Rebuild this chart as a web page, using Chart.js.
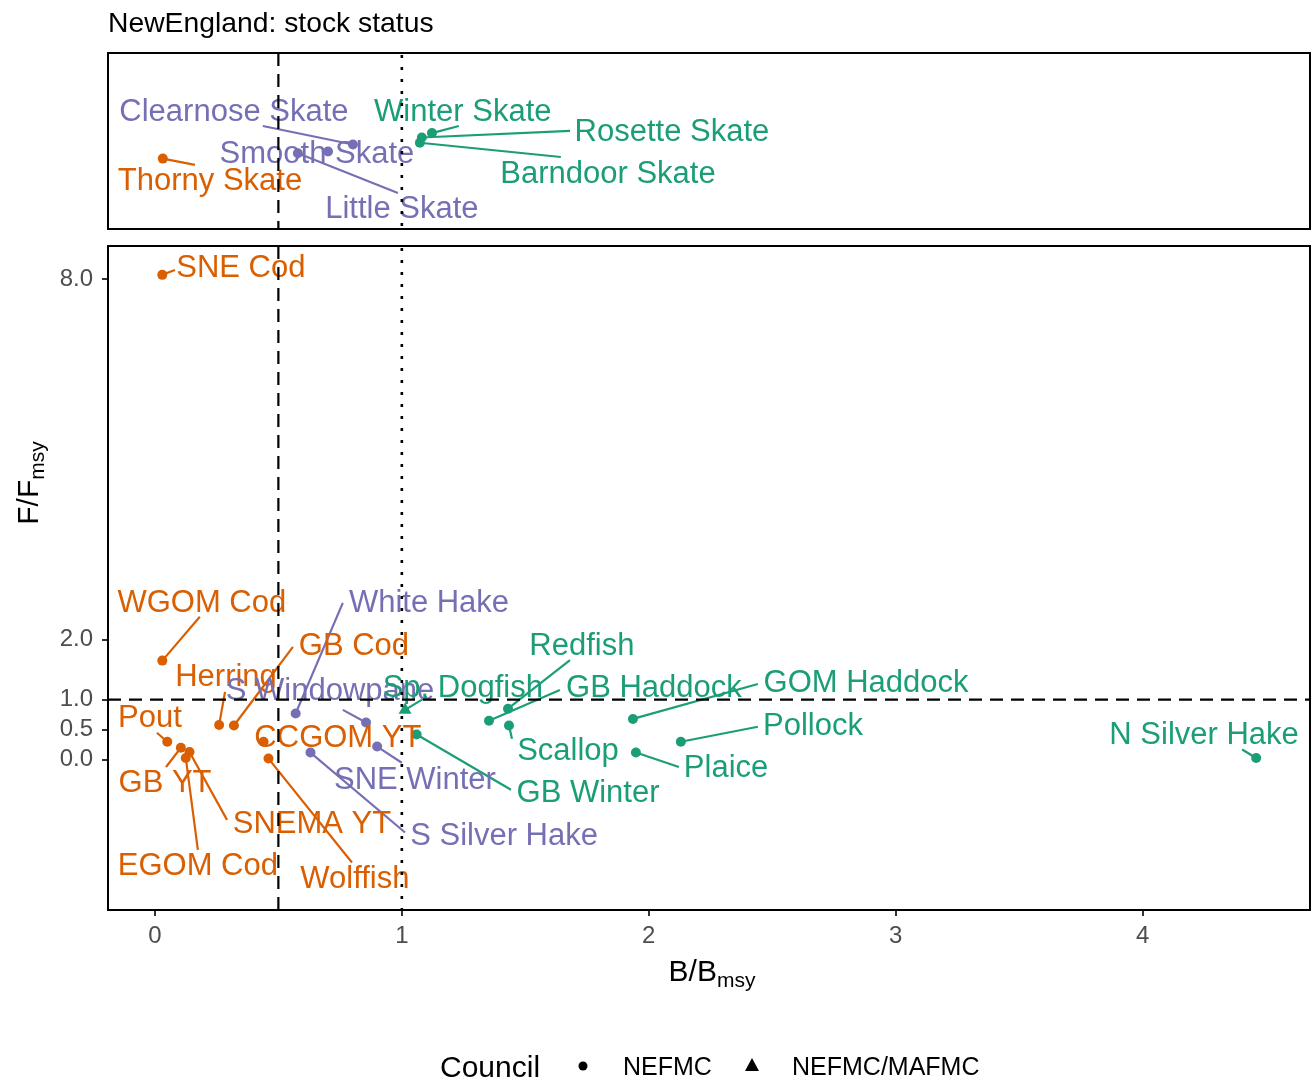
<!DOCTYPE html>
<html>
<head>
<meta charset="utf-8">
<script src="https://cdn.jsdelivr.net/npm/chart.js@4.4.1/dist/chart.umd.min.js"></script>
<style>
  html, body { margin: 0; padding: 0; background: #fff; }
  #wrap { position: relative; width: 1312px; height: 1081px; }
  canvas { position: absolute; left: 0; }
  #topPanel { top: 0; width: 1312px; height: 240px; }
  #mainPanel { top: 240px; width: 1312px; height: 841px; }
</style>
</head>
<body>
<div id="wrap">
  <canvas id="topPanel" width="1312" height="240"></canvas>
  <canvas id="mainPanel" width="1312" height="841"></canvas>
</div>
<script>
// --- stocks with B/Bmsy and F/Fmsy ---
const stocks = ['SNE Cod', 'WGOM Cod', 'Herring', 'GB Cod', 'Pout', 'GB YT', 'SNEMA YT', 'EGOM Cod',
  'CCGOM YT', 'Wolffish', 'White Hake', 'S Windowpane', 'S Silver Hake', 'SNE Winter', 'Sp. Dogfish',
  'GB Winter', 'GB Haddock', 'Redfish', 'Scallop', 'GOM Haddock', 'Plaice', 'Pollock', 'N Silver Hake'];
const bBmsy = [0.03, 0.03, 0.26, 0.32, 0.05, 0.105, 0.14, 0.125, 0.44, 0.46, 0.57, 0.855, 0.63, 0.90, 1.013,
  1.06, 1.353, 1.43, 1.434, 1.936, 1.948, 2.13, 4.46];
const fFmsy = [8.07, 1.65, 0.58, 0.57, 0.30, 0.20, 0.13, 0.03, 0.30, 0.02, 0.77, 0.62, 0.12, 0.22, 0.83,
  0.42, 0.65, 0.85, 0.57, 0.68, 0.12, 0.30, 0.03];
const council = ['NEFMC', 'NEFMC', 'NEFMC', 'NEFMC', 'NEFMC', 'NEFMC', 'NEFMC', 'NEFMC', 'NEFMC', 'NEFMC',
  'NEFMC', 'NEFMC', 'NEFMC', 'NEFMC', 'NEFMC/MAFMC', 'NEFMC', 'NEFMC', 'NEFMC', 'NEFMC', 'NEFMC', 'NEFMC',
  'NEFMC', 'NEFMC'];
const status = ['over', 'over', 'over', 'over', 'over', 'over', 'over', 'over', 'over', 'over',
  'below', 'below', 'below', 'below', 'above', 'above', 'above', 'above', 'above', 'above', 'above',
  'above', 'above'];
// where the repelled labels ended up (data units), and where their leaders meet them
const labelB = [0.348, 0.19, 0.288, 0.806, -0.02, 0.041, 0.636, 0.174, 0.741, 0.81, 1.11, 0.709, 1.414, 1.053,
  1.247, 1.754, 2.021, 1.729, 1.673, 2.88, 2.313, 2.665, 4.249];
const labelF = [8.2, 2.61, 1.38, 1.91, 0.70, -0.37, -1.06, -1.76, 0.37, -1.98, 2.61, 1.16, -1.26, -0.33,
  1.21, -0.55, 1.21, 1.91, 0.15, 1.28, -0.13, 0.57, 0.42];
const leaderB = [0.081, 0.182, 0.284, 0.559, 0.008, 0.045, 0.292, 0.174, null, 0.798, 0.761, 0.761, 1.013, 1.0,
  1.102, 1.442, 1.64, 1.681, 1.446, 2.442, 2.122, 2.442, 4.403];
const leaderF = [8.15, 2.38, 1.13, 1.88, 0.45, -0.12, -1.0, -1.5, null, -1.71, 2.61, 0.83, -1.21, -0.05,
  1.05, -0.5, 1.16, 1.66, 0.35, 1.26, -0.12, 0.55, 0.17];

// --- skates: B/Bmsy only (F unknown) ---
const skates = ['Thorny Skate', 'Little Skate', 'Smooth Skate', 'Clearnose Skate', 'Barndoor Skate',
  'Rosette Skate', 'Winter Skate'];
const skateB = [0.032, 0.579, 0.701, 0.802, 1.073, 1.081, 1.122];
const skateRow = [0.40, 0.43, 0.44, 0.48, 0.49, 0.52, 0.545];
const skateCouncil = ['NEFMC', 'NEFMC', 'NEFMC', 'NEFMC', 'NEFMC', 'NEFMC', 'NEFMC'];
const skateStatus = ['over', 'below', 'below', 'below', 'above', 'above', 'above'];
const skateLabelB = [0.223, 1.0, 0.656, 0.32, 1.835, 2.094, 1.247];
const skateLabelRow = [0.273, 0.119, 0.432, 0.67, 0.318, 0.557, 0.67];
const skateLeaderB = [0.162, 0.984, null, 0.437, 1.644, 1.681, 1.231];
const skateLeaderRow = [0.364, 0.205, null, 0.585, 0.409, 0.557, 0.585];

// --- axes ---
const xTicks = [0, 1, 2, 3, 4];
const yTicks = [0, 0.5, 1, 2, 8];
const xRange = [-0.19, 4.678];
const yRange = [-2.5, 8.55];

const statusColour = { over: '#D95F02', below: '#7570B3', above: '#1B9E77' };
const FONT = '"Liberation Sans", Arial, Helvetica, sans-serif';
const LABEL_PX = 31;

function buildDatasets(names, xs, ys, councils, groups) {
  const isTri = c => c.raw && c.raw.council === 'NEFMC/MAFMC';
  return Object.keys(statusColour).map(g => ({
    label: g,
    data: names.map((n, i) => ({ x: xs[i], y: ys[i], name: n, council: councils[i], g: groups[i] }))
      .filter(p => p.g === g),
    backgroundColor: statusColour[g],
    borderColor: statusColour[g],
    borderWidth: 0,
    pointStyle: c => isTri(c) ? 'triangle' : 'circle',
    pointRadius: c => isTri(c) ? 7.5 : 5,
    pointHoverRadius: c => isTri(c) ? 7.5 : 5
  }));
}

// labels with leader segments, like ggrepel
function repelLabels(names, xs, ys, lxs, lys, ex, ey, groups) {
  return {
    id: 'repelLabels',
    afterDatasetsDraw(chart) {
      const { ctx, scales: { x, y } } = chart;
      ctx.save();
      ctx.lineWidth = 2.2;
      names.forEach((n, i) => {
        if (ex[i] === null) return;
        ctx.strokeStyle = statusColour[groups[i]];
        ctx.beginPath();
        ctx.moveTo(x.getPixelForValue(xs[i]), y.getPixelForValue(ys[i]));
        ctx.lineTo(x.getPixelForValue(ex[i]), y.getPixelForValue(ey[i]));
        ctx.stroke();
      });
      ctx.font = `${LABEL_PX}px ${FONT}`;
      ctx.textAlign = 'center';
      ctx.textBaseline = 'middle';
      names.forEach((n, i) => {
        ctx.fillStyle = statusColour[groups[i]];
        ctx.fillText(n, x.getPixelForValue(lxs[i]), y.getPixelForValue(lys[i]) + 1);
      });
      ctx.restore();
    }
  };
}

function refLines(withHorizontal) {
  return {
    id: 'refLines',
    afterDraw(chart) {
      const { ctx, chartArea: a, scales: { x, y } } = chart;
      ctx.save();
      ctx.strokeStyle = '#000';
      ctx.lineWidth = 2.2;
      ctx.lineCap = 'butt';
      // dashed B = 0.5
      ctx.setLineDash([13, 8]);
      let px = x.getPixelForValue(0.5);
      ctx.beginPath(); ctx.moveTo(px, a.top); ctx.lineTo(px, a.bottom); ctx.stroke();
      if (withHorizontal) {
        const py = y.getPixelForValue(1);
        ctx.beginPath(); ctx.moveTo(a.left, py); ctx.lineTo(a.right, py); ctx.stroke();
      }
      // dotted B = 1
      ctx.setLineDash([3, 9]);
      ctx.lineWidth = 2.6;
      px = x.getPixelForValue(1);
      ctx.beginPath(); ctx.moveTo(px, a.top + 2); ctx.lineTo(px, a.bottom); ctx.stroke();
      // panel frame
      ctx.setLineDash([]);
      ctx.lineWidth = 2;
      ctx.strokeRect(a.left, a.top, a.right - a.left, a.bottom - a.top);
      ctx.restore();
    }
  };
}

function drawSubText(ctx, main, sub, cx, baseline, mainPx, subPx, drop) {
  ctx.font = `${mainPx}px ${FONT}`;
  const w1 = ctx.measureText(main).width;
  ctx.font = `${subPx}px ${FONT}`;
  const w2 = ctx.measureText(sub).width;
  const start = cx - (w1 + w2) / 2;
  ctx.textAlign = 'left';
  ctx.textBaseline = 'alphabetic';
  ctx.font = `${mainPx}px ${FONT}`;
  ctx.fillText(main, start, baseline);
  ctx.font = `${subPx}px ${FONT}`;
  ctx.fillText(sub, start + w1, baseline + drop);
}

const titlePlugin = {
  id: 'pageTitle',
  afterDraw(chart) {
    const ctx = chart.ctx;
    ctx.save();
    ctx.fillStyle = '#000';
    ctx.font = `28.3px ${FONT}`;
    ctx.textAlign = 'left';
    ctx.textBaseline = 'alphabetic';
    ctx.fillText('NewEngland: stock status', 108, 32);
    ctx.restore();
  }
};

const axisTitlesAndLegend = {
  id: 'axisTitlesAndLegend',
  afterDraw(chart) {
    const ctx = chart.ctx;
    ctx.save();
    ctx.fillStyle = '#000';
    // x title
    drawSubText(ctx, 'B/B', 'msy', 712, 741, 30, 21, 6);
    // y title (rotated)
    ctx.save();
    ctx.translate(38, 243);
    ctx.rotate(-Math.PI / 2);
    drawSubText(ctx, 'F/F', 'msy', 0, 0, 30, 21, 6);
    ctx.restore();
    // legend
    ctx.textAlign = 'left';
    ctx.textBaseline = 'alphabetic';
    ctx.font = `30px ${FONT}`;
    ctx.fillText('Council', 440, 837);
    ctx.font = `25px ${FONT}`;
    ctx.fillText('NEFMC', 623, 835);
    ctx.fillText('NEFMC/MAFMC', 792, 835);
    ctx.beginPath(); ctx.arc(583, 826, 4.5, 0, Math.PI * 2); ctx.fill();
    ctx.beginPath();
    ctx.moveTo(752, 818); ctx.lineTo(759, 831); ctx.lineTo(745, 831); ctx.closePath(); ctx.fill();
    ctx.restore();
  }
};

const noPadding = s => { s.paddingTop = 0; s.paddingBottom = 0; s.paddingLeft = 0; s.paddingRight = 0; };

Chart.defaults.font.family = FONT;

new Chart(document.getElementById('topPanel'), {
  type: 'scatter',
  data: { datasets: buildDatasets(skates, skateB, skateRow, skateCouncil, skateStatus) },
  options: {
    responsive: false, animation: false, devicePixelRatio: 1,
    layout: { autoPadding: false, padding: { left: 108, right: 2, top: 53, bottom: 11 } },
    plugins: { legend: { display: false }, tooltip: { enabled: false } },
    scales: {
      x: { type: 'linear', min: xRange[0], max: xRange[1], display: false },
      y: { type: 'linear', min: 0, max: 1, display: false }
    }
  },
  plugins: [repelLabels(skates, skateB, skateRow, skateLabelB, skateLabelRow, skateLeaderB, skateLeaderRow, skateStatus),
    refLines(false), titlePlugin]
});

new Chart(document.getElementById('mainPanel'), {
  type: 'scatter',
  data: { datasets: buildDatasets(stocks, bBmsy, fFmsy, council, status) },
  options: {
    responsive: false, animation: false, devicePixelRatio: 1,
    layout: { autoPadding: false, padding: { left: 0, right: 2, top: 6, bottom: 71 } },
    plugins: { legend: { display: false }, tooltip: { enabled: false } },
    scales: {
      x: {
        type: 'linear', min: xRange[0], max: xRange[1],
        afterBuildTicks: s => { s.ticks = xTicks.map(v => ({ value: v })); },
        afterFit: s => { s.height = 100; noPadding(s); },
        grid: { drawOnChartArea: false, drawTicks: true, tickLength: 6, color: '#333', lineWidth: 2 },
        border: { display: false },
        ticks: { font: { size: 24 }, color: '#4d4d4d', padding: 6, maxRotation: 0, callback: v => String(v) }
      },
      y: {
        type: 'linear', min: yRange[0], max: yRange[1],
        afterBuildTicks: s => { s.ticks = yTicks.map(v => ({ value: v })); },
        afterFit: s => { s.width = 108; noPadding(s); },
        grid: { drawOnChartArea: false, drawTicks: true, tickLength: 6, color: '#333', lineWidth: 2 },
        border: { display: false },
        ticks: { font: { size: 24 }, color: '#4d4d4d', padding: 9, callback: v => Number(v).toFixed(1) }
      }
    }
  },
  plugins: [repelLabels(stocks, bBmsy, fFmsy, labelB, labelF, leaderB, leaderF, status),
    refLines(true), axisTitlesAndLegend]
});
</script>
</body>
</html>
